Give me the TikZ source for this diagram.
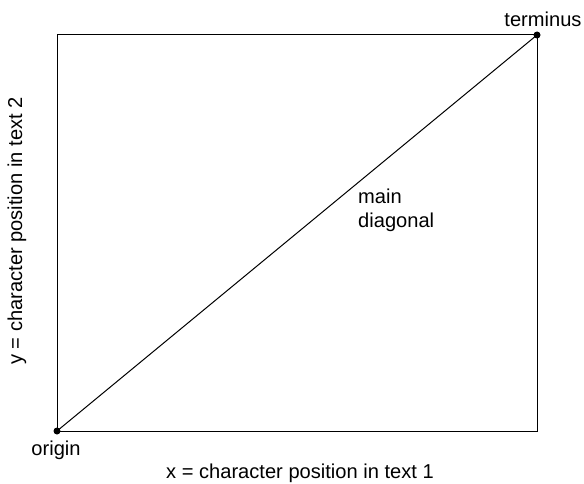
\documentclass[tikz,border=0pt]{standalone}
\usepackage{fontspec}
\setmainfont{Liberation Sans}
\begin{document}
\begin{tikzpicture}[x=1pt,y=1pt,
  lbl/.style={inner sep=0pt, font=\fontsize{20.1}{23.5}\selectfont},
  dotmark/.style={circle, fill=black, inner sep=0pt, minimum size=7pt},
  frame/.style={draw=black, line width=1pt}]
\useasboundingbox (0,0) rectangle (584,483);
\coordinate (bl) at (57,52);
\coordinate (tr) at (537,448);
\draw[frame] (bl) rectangle (tr);
\draw[line width=1pt] (bl) -- (tr);
\node[dotmark] (origin) at (bl) {};
\node[dotmark] (terminus) at (tr) {};
\node[lbl, anchor=base] (olab) at (56,28) {origin};
\node[lbl, anchor=base] (tlab) at (543,456) {terminus};
\node[lbl, anchor=base west, align=left] (mlab) at (358,256) {main\\diagonal};
\node[lbl, anchor=base] (xlab) at (300,5) {x = character position in text 1};
\node[lbl, anchor=base, rotate=90] (ylab) at (22,252) {y = character position in text 2};
\end{tikzpicture}
\end{document}
